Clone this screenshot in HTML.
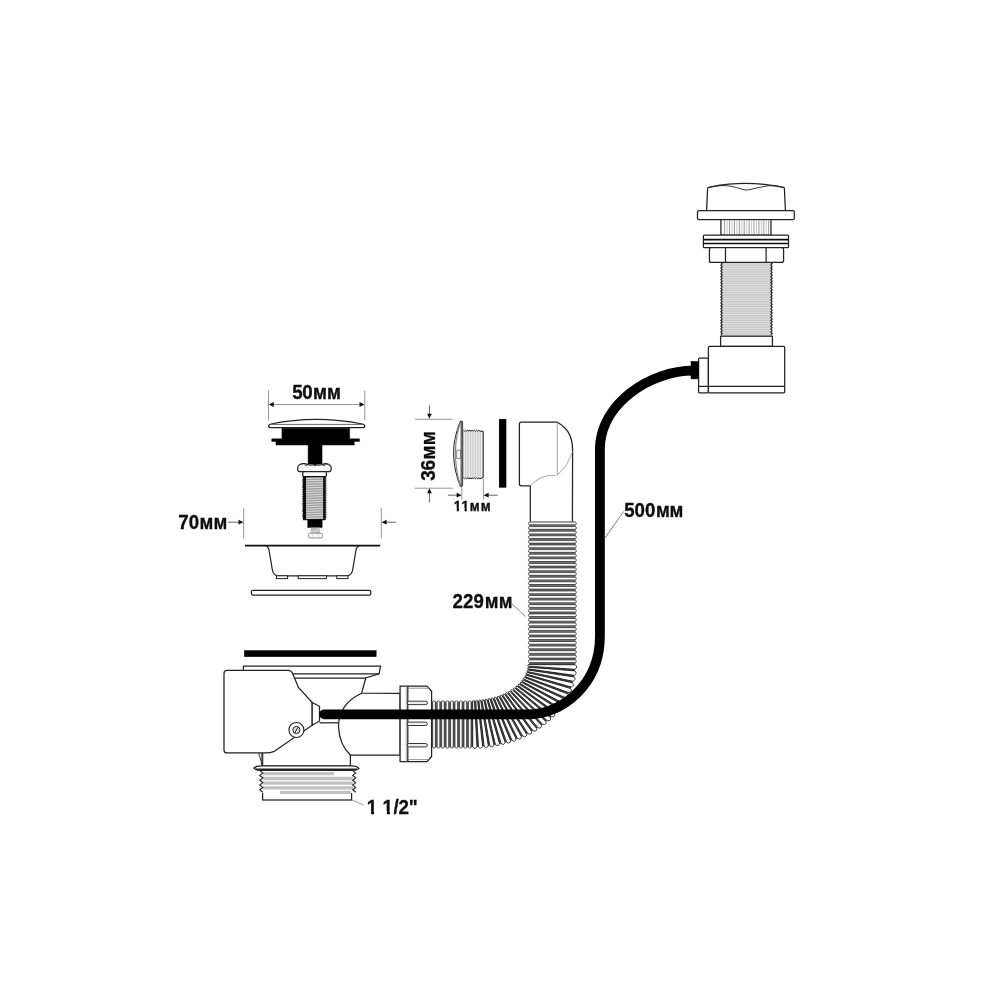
<!DOCTYPE html>
<html lang="ru">
<head>
<meta charset="utf-8">
<title>Схема</title>
<style>
html,body{margin:0;padding:0;background:#fff;}
body{width:1000px;height:1000px;overflow:hidden;}
svg{display:block;}
text{font-family:"Liberation Sans",sans-serif;font-weight:bold;fill:#0a0a0a;stroke:#0a0a0a;stroke-width:0.3px;font-kerning:none;}
</style>
</head>
<body>
<svg width="1000" height="1000" viewBox="0 0 1000 1000">
<defs><filter id="soft" x="0" y="0" width="1000" height="1000" filterUnits="userSpaceOnUse"><feGaussianBlur stdDeviation="0.55"/></filter></defs>
<rect width="1000" height="1000" fill="#fff"/>
<g filter="url(#soft)">
<g id="overflow">
<rect x="721.3" y="262.4" width="50.4" height="73.8" rx="0" fill="#c4c4c4" stroke="none" stroke-width="1.25" />
<line x1="722.3" y1="263.9" x2="770.7" y2="263.9" stroke="#e8e8e8" stroke-width="0.9" />
<line x1="722.3" y1="266.2" x2="770.7" y2="266.2" stroke="#e8e8e8" stroke-width="0.9" />
<line x1="722.3" y1="268.5" x2="770.7" y2="268.5" stroke="#e8e8e8" stroke-width="0.9" />
<line x1="722.3" y1="270.8" x2="770.7" y2="270.8" stroke="#e8e8e8" stroke-width="0.9" />
<line x1="722.3" y1="273.1" x2="770.7" y2="273.1" stroke="#e8e8e8" stroke-width="0.9" />
<line x1="722.3" y1="275.4" x2="770.7" y2="275.4" stroke="#e8e8e8" stroke-width="0.9" />
<line x1="722.3" y1="277.7" x2="770.7" y2="277.7" stroke="#e8e8e8" stroke-width="0.9" />
<line x1="722.3" y1="280.0" x2="770.7" y2="280.0" stroke="#e8e8e8" stroke-width="0.9" />
<line x1="722.3" y1="282.3" x2="770.7" y2="282.3" stroke="#e8e8e8" stroke-width="0.9" />
<line x1="722.3" y1="284.6" x2="770.7" y2="284.6" stroke="#e8e8e8" stroke-width="0.9" />
<line x1="722.3" y1="286.9" x2="770.7" y2="286.9" stroke="#e8e8e8" stroke-width="0.9" />
<line x1="722.3" y1="289.2" x2="770.7" y2="289.2" stroke="#e8e8e8" stroke-width="0.9" />
<line x1="722.3" y1="291.5" x2="770.7" y2="291.5" stroke="#e8e8e8" stroke-width="0.9" />
<line x1="722.3" y1="293.8" x2="770.7" y2="293.8" stroke="#e8e8e8" stroke-width="0.9" />
<line x1="722.3" y1="296.1" x2="770.7" y2="296.1" stroke="#e8e8e8" stroke-width="0.9" />
<line x1="722.3" y1="298.4" x2="770.7" y2="298.4" stroke="#e8e8e8" stroke-width="0.9" />
<line x1="722.3" y1="300.7" x2="770.7" y2="300.7" stroke="#e8e8e8" stroke-width="0.9" />
<line x1="722.3" y1="303.0" x2="770.7" y2="303.0" stroke="#e8e8e8" stroke-width="0.9" />
<line x1="722.3" y1="305.3" x2="770.7" y2="305.3" stroke="#e8e8e8" stroke-width="0.9" />
<line x1="722.3" y1="307.6" x2="770.7" y2="307.6" stroke="#e8e8e8" stroke-width="0.9" />
<line x1="722.3" y1="309.9" x2="770.7" y2="309.9" stroke="#e8e8e8" stroke-width="0.9" />
<line x1="722.3" y1="312.2" x2="770.7" y2="312.2" stroke="#e8e8e8" stroke-width="0.9" />
<line x1="722.3" y1="314.5" x2="770.7" y2="314.5" stroke="#e8e8e8" stroke-width="0.9" />
<line x1="722.3" y1="316.8" x2="770.7" y2="316.8" stroke="#e8e8e8" stroke-width="0.9" />
<line x1="722.3" y1="319.1" x2="770.7" y2="319.1" stroke="#e8e8e8" stroke-width="0.9" />
<line x1="722.3" y1="321.4" x2="770.7" y2="321.4" stroke="#e8e8e8" stroke-width="0.9" />
<line x1="722.3" y1="323.7" x2="770.7" y2="323.7" stroke="#e8e8e8" stroke-width="0.9" />
<line x1="722.3" y1="326.0" x2="770.7" y2="326.0" stroke="#e8e8e8" stroke-width="0.9" />
<line x1="722.3" y1="328.3" x2="770.7" y2="328.3" stroke="#e8e8e8" stroke-width="0.9" />
<line x1="722.3" y1="330.6" x2="770.7" y2="330.6" stroke="#e8e8e8" stroke-width="0.9" />
<line x1="722.3" y1="332.9" x2="770.7" y2="332.9" stroke="#e8e8e8" stroke-width="0.9" />
<line x1="722.3" y1="335.2" x2="770.7" y2="335.2" stroke="#e8e8e8" stroke-width="0.9" />
<polyline points="720.9,262.4 722.1,263.8 720.9,265.3 722.1,266.7 720.9,268.2 722.1,269.6 720.9,271.1 722.1,272.5 720.9,274.0 722.1,275.4 720.9,276.9 722.1,278.3 720.9,279.8 722.1,281.2 720.9,282.7 722.1,284.1 720.9,285.6 722.1,287.0 720.9,288.5 722.1,289.9 720.9,291.4 722.1,292.8 720.9,294.3 722.1,295.7 720.9,297.2 722.1,298.6 720.9,300.1 722.1,301.5 720.9,303.0 722.1,304.4 720.9,305.9 722.1,307.3 720.9,308.8 722.1,310.2 720.9,311.7 722.1,313.1 720.9,314.6 722.1,316.0 720.9,317.5 722.1,318.9 720.9,320.4 722.1,321.8 720.9,323.3 722.1,324.7 720.9,326.2 722.1,327.6 720.9,329.1 722.1,330.5 720.9,332.0 722.1,333.4 720.9,334.9" fill="none" stroke="#222222" stroke-width="1.2"/>
<polyline points="770.9,262.4 772.1,263.8 770.9,265.3 772.1,266.7 770.9,268.2 772.1,269.6 770.9,271.1 772.1,272.5 770.9,274.0 772.1,275.4 770.9,276.9 772.1,278.3 770.9,279.8 772.1,281.2 770.9,282.7 772.1,284.1 770.9,285.6 772.1,287.0 770.9,288.5 772.1,289.9 770.9,291.4 772.1,292.8 770.9,294.3 772.1,295.7 770.9,297.2 772.1,298.6 770.9,300.1 772.1,301.5 770.9,303.0 772.1,304.4 770.9,305.9 772.1,307.3 770.9,308.8 772.1,310.2 770.9,311.7 772.1,313.1 770.9,314.6 772.1,316.0 770.9,317.5 772.1,318.9 770.9,320.4 772.1,321.8 770.9,323.3 772.1,324.7 770.9,326.2 772.1,327.6 770.9,329.1 772.1,330.5 770.9,332.0 772.1,333.4 770.9,334.9" fill="none" stroke="#222222" stroke-width="1.2"/>
<path d="M706.6 210.6 L707.6 188.4 Q707.7 187.5 708.7 187.3 Q745 179.4 783.3 187.3 Q784.3 187.5 784.4 188.4 L785.4 210.6 Z" fill="#fff" stroke="#222222" stroke-width="1.25" />
<path d="M708.7 187.4 Q722 184.6 731 186.2 Q739 188 742 189.3 Q746 190.8 750 189.6 Q758 187.4 768 185.8 Q776 185 783.3 187.3" fill="none" stroke="#222222" stroke-width="0.9" />
<rect x="697.5" y="210.6" width="96.8" height="9.0" rx="1.2" fill="#fff" stroke="#222222" stroke-width="1.25" />
<rect x="720.9" y="219.6" width="50.1" height="15.6" rx="0" fill="#fff" stroke="#222222" stroke-width="1.25" />
<line x1="724.6" y1="220.4" x2="724.6" y2="234.6" stroke="#8c8c8c" stroke-width="0.9" />
<line x1="727.1" y1="220.4" x2="727.1" y2="234.6" stroke="#c4c4c4" stroke-width="0.9" />
<line x1="729.5" y1="220.4" x2="729.5" y2="234.6" stroke="#8c8c8c" stroke-width="0.9" />
<line x1="732.0" y1="220.4" x2="732.0" y2="234.6" stroke="#c4c4c4" stroke-width="0.9" />
<line x1="734.4" y1="220.4" x2="734.4" y2="234.6" stroke="#8c8c8c" stroke-width="0.9" />
<line x1="736.9" y1="220.4" x2="736.9" y2="234.6" stroke="#c4c4c4" stroke-width="0.9" />
<line x1="739.3" y1="220.4" x2="739.3" y2="234.6" stroke="#8c8c8c" stroke-width="0.9" />
<line x1="741.8" y1="220.4" x2="741.8" y2="234.6" stroke="#c4c4c4" stroke-width="0.9" />
<line x1="744.2" y1="220.4" x2="744.2" y2="234.6" stroke="#8c8c8c" stroke-width="0.9" />
<line x1="746.7" y1="220.4" x2="746.7" y2="234.6" stroke="#c4c4c4" stroke-width="0.9" />
<line x1="749.1" y1="220.4" x2="749.1" y2="234.6" stroke="#8c8c8c" stroke-width="0.9" />
<line x1="751.6" y1="220.4" x2="751.6" y2="234.6" stroke="#c4c4c4" stroke-width="0.9" />
<line x1="754.0" y1="220.4" x2="754.0" y2="234.6" stroke="#8c8c8c" stroke-width="0.9" />
<line x1="756.5" y1="220.4" x2="756.5" y2="234.6" stroke="#c4c4c4" stroke-width="0.9" />
<line x1="758.9" y1="220.4" x2="758.9" y2="234.6" stroke="#8c8c8c" stroke-width="0.9" />
<line x1="761.4" y1="220.4" x2="761.4" y2="234.6" stroke="#c4c4c4" stroke-width="0.9" />
<line x1="763.8" y1="220.4" x2="763.8" y2="234.6" stroke="#8c8c8c" stroke-width="0.9" />
<line x1="766.3" y1="220.4" x2="766.3" y2="234.6" stroke="#c4c4c4" stroke-width="0.9" />
<line x1="768.7" y1="220.4" x2="768.7" y2="234.6" stroke="#8c8c8c" stroke-width="0.9" />
<rect x="703.4" y="235.0" width="85.1" height="12.7" rx="1" fill="#fff" stroke="#222222" stroke-width="1.25" />
<line x1="703.4" y1="239.6" x2="788.5" y2="239.6" stroke="#0a0a0a" stroke-width="1.6" />
<line x1="703.4" y1="243.5" x2="788.5" y2="243.5" stroke="#0a0a0a" stroke-width="1.6" />
<rect x="709.4" y="247.7" width="74.2" height="14.7" rx="2" fill="#fff" stroke="#222222" stroke-width="1.25" />
<line x1="725.5" y1="247.7" x2="725.5" y2="262.4" stroke="#222222" stroke-width="1.25" />
<line x1="766.1" y1="247.7" x2="766.1" y2="262.4" stroke="#222222" stroke-width="1.25" />
<rect x="720.6" y="336.2" width="51.8" height="10.2" rx="0" fill="#fff" stroke="#222222" stroke-width="1.25" />
<rect x="698.6" y="358.2" width="9.8" height="34.7" rx="1" fill="#fff" stroke="#222222" stroke-width="1.25" />
<rect x="708.4" y="346.4" width="76.3" height="46.5" rx="1.2" fill="#fff" stroke="#222222" stroke-width="1.25" />
<line x1="698.6" y1="386.3" x2="784.7" y2="386.3" stroke="#222222" stroke-width="1.2" />
<rect x="691.0" y="361.4" width="7.6" height="17.5" rx="0" fill="#000" stroke="#000" stroke-width="0.5" />
</g>
<g id="hose">
<path d="M530.3 521.5 L530.3 485.8 L521.4 485.8 Q519.4 485.8 519.4 483.8 L519.4 424.2 Q519.4 422.2 521.4 422.2 L557.2 422.2 Q572.6 430 572.6 450 L572.4 521.5" fill="#fff" stroke="#222222" stroke-width="1.25" />
<path d="M557.2 422.2 L557.2 475 M530.3 485.8 Q541 474 555.5 475.6 M557.2 475 Q568 466 572.5 451.6" fill="none" stroke="#8c8c8c" stroke-width="0.8" />
<rect x="529.2" y="521.6" width="46.4" height="142.4" rx="0" fill="#7a7a7a" stroke="none" stroke-width="1.25" />
<rect x="528.4" y="522.1" width="48.0" height="2.7" rx="1.35" fill="#fff" stroke="#111" stroke-width="0.65" />
<rect x="528.4" y="526.6" width="48.0" height="2.7" rx="1.35" fill="#fff" stroke="#111" stroke-width="0.65" />
<rect x="528.4" y="531.2" width="48.0" height="2.7" rx="1.35" fill="#fff" stroke="#111" stroke-width="0.65" />
<rect x="528.4" y="535.8" width="48.0" height="2.7" rx="1.35" fill="#fff" stroke="#111" stroke-width="0.65" />
<rect x="528.4" y="540.4" width="48.0" height="2.7" rx="1.35" fill="#fff" stroke="#111" stroke-width="0.65" />
<rect x="528.4" y="545.0" width="48.0" height="2.7" rx="1.35" fill="#fff" stroke="#111" stroke-width="0.65" />
<rect x="528.4" y="549.6" width="48.0" height="2.7" rx="1.35" fill="#fff" stroke="#111" stroke-width="0.65" />
<rect x="528.4" y="554.2" width="48.0" height="2.7" rx="1.35" fill="#fff" stroke="#111" stroke-width="0.65" />
<rect x="528.4" y="558.8" width="48.0" height="2.7" rx="1.35" fill="#fff" stroke="#111" stroke-width="0.65" />
<rect x="528.4" y="563.4" width="48.0" height="2.7" rx="1.35" fill="#fff" stroke="#111" stroke-width="0.65" />
<rect x="528.4" y="568.0" width="48.0" height="2.7" rx="1.35" fill="#fff" stroke="#111" stroke-width="0.65" />
<rect x="528.4" y="572.6" width="48.0" height="2.7" rx="1.35" fill="#fff" stroke="#111" stroke-width="0.65" />
<rect x="528.4" y="577.2" width="48.0" height="2.7" rx="1.35" fill="#fff" stroke="#111" stroke-width="0.65" />
<rect x="528.4" y="581.8" width="48.0" height="2.7" rx="1.35" fill="#fff" stroke="#111" stroke-width="0.65" />
<rect x="528.4" y="586.4" width="48.0" height="2.7" rx="1.35" fill="#fff" stroke="#111" stroke-width="0.65" />
<rect x="528.4" y="591.0" width="48.0" height="2.7" rx="1.35" fill="#fff" stroke="#111" stroke-width="0.65" />
<rect x="528.4" y="595.5" width="48.0" height="2.7" rx="1.35" fill="#fff" stroke="#111" stroke-width="0.65" />
<rect x="528.4" y="600.1" width="48.0" height="2.7" rx="1.35" fill="#fff" stroke="#111" stroke-width="0.65" />
<rect x="528.4" y="604.7" width="48.0" height="2.7" rx="1.35" fill="#fff" stroke="#111" stroke-width="0.65" />
<rect x="528.4" y="609.3" width="48.0" height="2.7" rx="1.35" fill="#fff" stroke="#111" stroke-width="0.65" />
<rect x="528.4" y="613.9" width="48.0" height="2.7" rx="1.35" fill="#fff" stroke="#111" stroke-width="0.65" />
<rect x="528.4" y="618.5" width="48.0" height="2.7" rx="1.35" fill="#fff" stroke="#111" stroke-width="0.65" />
<rect x="528.4" y="623.1" width="48.0" height="2.7" rx="1.35" fill="#fff" stroke="#111" stroke-width="0.65" />
<rect x="528.4" y="627.7" width="48.0" height="2.7" rx="1.35" fill="#fff" stroke="#111" stroke-width="0.65" />
<rect x="528.4" y="632.3" width="48.0" height="2.7" rx="1.35" fill="#fff" stroke="#111" stroke-width="0.65" />
<rect x="528.4" y="636.9" width="48.0" height="2.7" rx="1.35" fill="#fff" stroke="#111" stroke-width="0.65" />
<rect x="528.4" y="641.5" width="48.0" height="2.7" rx="1.35" fill="#fff" stroke="#111" stroke-width="0.65" />
<rect x="528.4" y="646.1" width="48.0" height="2.7" rx="1.35" fill="#fff" stroke="#111" stroke-width="0.65" />
<rect x="528.4" y="650.7" width="48.0" height="2.7" rx="1.35" fill="#fff" stroke="#111" stroke-width="0.65" />
<rect x="528.4" y="655.3" width="48.0" height="2.7" rx="1.35" fill="#fff" stroke="#111" stroke-width="0.65" />
<rect x="528.4" y="659.9" width="48.0" height="2.7" rx="1.35" fill="#fff" stroke="#111" stroke-width="0.65" />
<polygon points="574.7,664.0 574.7,665.3 574.7,666.6 574.6,667.9 574.5,669.2 574.4,670.5 574.3,671.8 574.1,673.0 573.9,674.3 573.7,675.6 573.5,676.9 573.2,678.2 572.9,679.4 572.6,680.7 572.2,682.0 571.9,683.2 571.5,684.5 571.1,685.8 570.6,687.0 570.2,688.2 569.7,689.5 569.2,690.7 568.6,691.9 568.1,693.1 567.5,694.3 566.9,695.6 566.3,696.7 565.6,697.9 564.9,699.1 564.2,700.3 563.5,701.4 562.8,702.6 562.0,703.7 561.2,704.8 560.4,706.0 559.6,707.1 558.7,708.2 557.9,709.3 557.0,710.3 556.0,711.4 555.1,712.5 554.1,713.5 553.2,714.5 552.2,715.5 551.1,716.6 550.1,717.5 549.1,718.5 548.0,719.5 546.9,720.4 545.8,721.4 544.6,722.3 543.5,723.2 542.3,724.1 541.1,725.0 539.9,725.8 538.7,726.7 537.5,727.5 536.2,728.3 535.0,729.1 533.7,729.9 532.4,730.7 531.1,731.5 529.7,732.2 528.4,732.9 527.0,733.6 525.7,734.3 524.3,735.0 522.9,735.6 521.5,736.2 520.1,736.9 518.6,737.5 517.2,738.0 515.7,738.6 514.3,739.1 512.8,739.7 511.3,740.2 509.8,740.7 508.3,741.1 506.8,741.6 505.3,742.0 503.7,742.4 502.2,742.8 500.7,743.2 499.1,743.5 497.5,743.9 496.0,744.2 494.4,744.5 492.8,744.7 491.2,745.0 489.7,745.2 488.1,745.4 486.5,745.6 484.9,745.8 483.3,745.9 481.7,746.1 480.1,746.2 478.4,746.3 476.8,746.4 475.2,746.4 473.6,746.4 472.0,746.4 472.0,701.7 472.9,701.7 473.8,701.7 474.7,701.7 475.6,701.7 476.5,701.6 477.4,701.6 478.3,701.5 479.2,701.4 480.1,701.4 481.0,701.3 481.9,701.2 482.7,701.1 483.6,701.0 484.5,700.8 485.4,700.7 486.3,700.6 487.1,700.4 488.0,700.2 488.9,700.1 489.7,699.9 490.6,699.7 491.4,699.5 492.3,699.3 493.1,699.1 494.0,698.9 494.8,698.6 495.6,698.4 496.4,698.2 497.2,697.9 498.0,697.6 498.8,697.4 499.6,697.1 500.4,696.8 501.2,696.5 502.0,696.2 502.7,695.9 503.5,695.5 504.2,695.2 505.0,694.9 505.7,694.5 506.4,694.2 507.2,693.8 507.9,693.5 508.6,693.1 509.3,692.7 509.9,692.3 510.6,691.9 511.3,691.5 511.9,691.1 512.6,690.7 513.2,690.3 513.8,689.8 514.4,689.4 515.0,689.0 515.6,688.5 516.2,688.1 516.8,687.6 517.3,687.1 517.9,686.7 518.4,686.2 518.9,685.7 519.4,685.2 519.9,684.7 520.4,684.2 520.9,683.7 521.4,683.2 521.8,682.7 522.3,682.2 522.7,681.7 523.1,681.1 523.5,680.6 523.9,680.1 524.3,679.5 524.6,679.0 525.0,678.4 525.3,677.9 525.7,677.3 526.0,676.8 526.3,676.2 526.6,675.7 526.8,675.1 527.1,674.5 527.3,674.0 527.6,673.4 527.8,672.8 528.0,672.2 528.2,671.7 528.3,671.1 528.5,670.5 528.7,669.9 528.8,669.3 528.9,668.7 529.0,668.1 529.1,667.6 529.2,667.0 529.2,666.4 529.3,665.8 529.3,665.2 529.4,664.6 529.4,664.0" fill="#505050" stroke="#222" stroke-width="0.7"/>
<path d="M528.39 664.57 L575.20 664.79 Q578.25 667.16 574.99 669.30 L528.30 666.14 Q527.40 665.32 528.39 664.57 Z" fill="#fff" stroke="#0a0a0a" stroke-width="0.8" stroke-linejoin="round"/>
<path d="M528.18 667.27 L574.84 670.88 Q577.68 673.46 574.23 675.34 L527.91 668.82 Q527.10 667.94 528.18 667.27 Z" fill="#fff" stroke="#0a0a0a" stroke-width="0.8" stroke-linejoin="round"/>
<path d="M527.66 669.94 L573.94 676.90 Q576.54 679.66 572.93 681.28 L527.23 671.46 Q526.51 670.53 527.66 669.94 Z" fill="#fff" stroke="#0a0a0a" stroke-width="0.8" stroke-linejoin="round"/>
<path d="M526.86 672.55 L572.51 682.80 Q574.87 685.72 571.13 687.07 L526.26 674.03 Q525.64 673.06 526.86 672.55 Z" fill="#fff" stroke="#0a0a0a" stroke-width="0.8" stroke-linejoin="round"/>
<path d="M525.78 675.09 L570.58 688.54 Q572.70 691.60 568.84 692.65 L525.03 676.52 Q524.51 675.51 525.78 675.09 Z" fill="#fff" stroke="#0a0a0a" stroke-width="0.8" stroke-linejoin="round"/>
<path d="M524.44 677.54 L568.17 694.07 Q570.05 697.25 566.12 698.01 L523.56 678.91 Q523.13 677.86 524.44 677.54 Z" fill="#fff" stroke="#0a0a0a" stroke-width="0.8" stroke-linejoin="round"/>
<path d="M522.88 679.88 L565.34 699.37 Q566.98 702.64 562.99 703.12 L521.87 681.18 Q521.53 680.11 522.88 679.88 Z" fill="#fff" stroke="#0a0a0a" stroke-width="0.8" stroke-linejoin="round"/>
<path d="M521.10 682.10 L562.12 704.40 Q563.53 707.76 559.51 707.95 L519.99 683.34 Q519.73 682.24 521.10 682.10 Z" fill="#fff" stroke="#0a0a0a" stroke-width="0.8" stroke-linejoin="round"/>
<path d="M519.14 684.21 L558.55 709.16 Q559.73 712.58 555.71 712.50 L517.92 685.37 Q517.74 684.26 519.14 684.21 Z" fill="#fff" stroke="#0a0a0a" stroke-width="0.8" stroke-linejoin="round"/>
<path d="M517.00 686.18 L554.67 713.63 Q555.62 717.11 551.62 716.75 L515.70 687.27 Q515.60 686.14 517.00 686.18 Z" fill="#fff" stroke="#0a0a0a" stroke-width="0.8" stroke-linejoin="round"/>
<path d="M514.72 688.02 L550.52 717.81 Q551.24 721.33 547.28 720.72 L513.34 689.04 Q513.32 687.90 514.72 688.02 Z" fill="#fff" stroke="#0a0a0a" stroke-width="0.8" stroke-linejoin="round"/>
<path d="M512.31 689.74 L546.12 721.70 Q546.62 725.25 542.72 724.38 L510.85 690.67 Q510.91 689.54 512.31 689.74 Z" fill="#fff" stroke="#0a0a0a" stroke-width="0.8" stroke-linejoin="round"/>
<path d="M509.78 691.32 L541.51 725.29 Q541.80 728.87 537.97 727.76 L508.27 692.18 Q508.40 691.05 509.78 691.32 Z" fill="#fff" stroke="#0a0a0a" stroke-width="0.8" stroke-linejoin="round"/>
<path d="M507.15 692.78 L536.71 728.59 Q536.79 732.18 533.05 730.85 L505.58 693.56 Q505.78 692.43 507.15 692.78 Z" fill="#fff" stroke="#0a0a0a" stroke-width="0.8" stroke-linejoin="round"/>
<path d="M504.43 694.11 L531.75 731.61 Q531.62 735.20 527.98 733.66 L502.82 694.82 Q503.09 693.69 504.43 694.11 Z" fill="#fff" stroke="#0a0a0a" stroke-width="0.8" stroke-linejoin="round"/>
<path d="M501.64 695.31 L526.64 734.34 Q526.32 737.92 522.79 736.18 L499.98 695.95 Q500.32 694.82 501.64 695.31 Z" fill="#fff" stroke="#0a0a0a" stroke-width="0.8" stroke-linejoin="round"/>
<path d="M498.78 696.39 L521.42 736.79 Q520.89 740.36 517.48 738.43 L497.09 696.96 Q497.49 695.84 498.78 696.39 Z" fill="#fff" stroke="#0a0a0a" stroke-width="0.8" stroke-linejoin="round"/>
<path d="M495.86 697.35 L516.09 738.97 Q515.36 742.52 512.08 740.41 L494.14 697.85 Q494.61 696.74 495.86 697.35 Z" fill="#fff" stroke="#0a0a0a" stroke-width="0.8" stroke-linejoin="round"/>
<path d="M492.89 698.18 L510.66 740.88 Q509.75 744.39 506.60 742.12 L491.15 698.61 Q491.68 697.52 492.89 698.18 Z" fill="#fff" stroke="#0a0a0a" stroke-width="0.8" stroke-linejoin="round"/>
<path d="M489.88 698.90 L505.17 742.52 Q504.06 745.99 501.06 743.56 L488.12 699.26 Q488.72 698.19 489.88 698.90 Z" fill="#fff" stroke="#0a0a0a" stroke-width="0.8" stroke-linejoin="round"/>
<path d="M486.84 699.50 L499.61 743.90 Q498.31 747.32 495.46 744.75 L485.07 699.80 Q485.72 698.74 486.84 699.50 Z" fill="#fff" stroke="#0a0a0a" stroke-width="0.8" stroke-linejoin="round"/>
<path d="M483.77 699.99 L493.99 745.01 Q492.51 748.38 489.82 745.67 L481.98 700.22 Q482.69 699.18 483.77 699.99 Z" fill="#fff" stroke="#0a0a0a" stroke-width="0.8" stroke-linejoin="round"/>
<path d="M480.68 700.36 L488.34 745.87 Q486.68 749.17 484.14 746.34 L478.88 700.52 Q479.65 699.51 480.68 700.36 Z" fill="#fff" stroke="#0a0a0a" stroke-width="0.8" stroke-linejoin="round"/>
<path d="M477.58 700.62 L482.66 746.47 Q480.82 749.70 478.45 746.76 L475.77 700.72 Q476.60 699.73 477.58 700.62 Z" fill="#fff" stroke="#0a0a0a" stroke-width="0.8" stroke-linejoin="round"/>
<path d="M474.46 700.76 L476.97 746.82 Q474.94 749.96 472.74 746.92 L472.66 700.80 Q473.53 699.84 474.46 700.76 Z" fill="#fff" stroke="#0a0a0a" stroke-width="0.8" stroke-linejoin="round"/>
<rect x="431.8" y="701.6" width="40.2" height="45.7" rx="0" fill="#606060" stroke="none" stroke-width="1.25" />
<rect x="432.7" y="700.8" width="2.6" height="47.3" rx="1.3" fill="#fff" stroke="#111" stroke-width="0.65" />
<rect x="437.2" y="700.8" width="2.6" height="47.3" rx="1.3" fill="#fff" stroke="#111" stroke-width="0.65" />
<rect x="441.6" y="700.8" width="2.6" height="47.3" rx="1.3" fill="#fff" stroke="#111" stroke-width="0.65" />
<rect x="446.1" y="700.8" width="2.6" height="47.3" rx="1.3" fill="#fff" stroke="#111" stroke-width="0.65" />
<rect x="450.6" y="700.8" width="2.6" height="47.3" rx="1.3" fill="#fff" stroke="#111" stroke-width="0.65" />
<rect x="455.0" y="700.8" width="2.6" height="47.3" rx="1.3" fill="#fff" stroke="#111" stroke-width="0.65" />
<rect x="459.5" y="700.8" width="2.6" height="47.3" rx="1.3" fill="#fff" stroke="#111" stroke-width="0.65" />
<rect x="464.0" y="700.8" width="2.6" height="47.3" rx="1.3" fill="#fff" stroke="#111" stroke-width="0.65" />
<rect x="468.4" y="700.8" width="2.6" height="47.3" rx="1.3" fill="#fff" stroke="#111" stroke-width="0.65" />
</g>
<g id="trap">
<rect x="244.3" y="650.4" width="132.0" height="6.4" rx="0" fill="#000" stroke="#000" stroke-width="0.3" />
<rect x="262.6" y="792.0" width="89.0" height="8.0" rx="0" fill="#fff" stroke="#222222" stroke-width="1.25" />
<rect x="261.4" y="770.4" width="92.6" height="22.6" rx="0" fill="#fff" stroke="none" stroke-width="1.25" />
<line x1="263.0" y1="773.7" x2="334.0" y2="773.7" stroke="#c2c2c2" stroke-width="3.3" />
<line x1="263.0" y1="778.5" x2="353.0" y2="778.5" stroke="#c2c2c2" stroke-width="3.3" />
<line x1="263.0" y1="783.2" x2="353.0" y2="783.2" stroke="#c2c2c2" stroke-width="3.3" />
<line x1="263.0" y1="787.8" x2="353.0" y2="787.8" stroke="#c2c2c2" stroke-width="3.3" />
<line x1="280.0" y1="792.3" x2="351.0" y2="792.3" stroke="#c2c2c2" stroke-width="3.3" />
<polyline points="259.8,770.6 262.8,773.0 259.8,775.4 262.8,777.8 259.8,780.2 262.8,782.6 259.8,785.0 262.8,787.4 259.8,789.8 262.8,792.2" fill="none" stroke="#222222" stroke-width="1.1"/>
<polyline points="352.7,770.6 355.7,773.0 352.7,775.4 355.7,777.8 352.7,780.2 355.7,782.6 352.7,785.0 355.7,787.4 352.7,789.8 355.7,792.2" fill="none" stroke="#222222" stroke-width="1.1"/>
<path d="M243.4 666.1 L380.5 666.1 L379.1 673.8 L365.8 678 L361.6 693.2 L400.1 693.4 L400.1 755 L350.4 755 L350.4 766.2 L262 766.2 L262 750 L243.4 720 Z" fill="#fff" stroke="#222222" stroke-width="1.25" />
<line x1="243.4" y1="673.8" x2="379.1" y2="673.8" stroke="#222222" stroke-width="1.25" />
<line x1="290.0" y1="678.0" x2="365.8" y2="678.0" stroke="#222222" stroke-width="1.25" />
<path d="M361.6 693.2 Q338.5 704 338.5 727 Q339.5 745 350.4 755" fill="none" stroke="#222222" stroke-width="1.25" />
<line x1="319.5" y1="722.8" x2="338.8" y2="722.8" stroke="#222222" stroke-width="1.25" />
<path d="M258.5 752.5 L262.5 766 M262.8 752.5 L262.8 766" fill="none" stroke="#222222" stroke-width="0.9" />
<path d="M254 768 Q256 765.8 262 765.8 L351 765.8 Q357 765.8 359 768.4 Q357 770.6 351 770.4 L262 770.4 Q256 770.4 254 768 Z" fill="#fff" stroke="#222222" stroke-width="1.2" />
<line x1="256.0" y1="769.2" x2="357.0" y2="769.2" stroke="#222" stroke-width="1.4" />
<path d="M227 670.3 L288 670.3 Q291 670.3 292.5 673 L298.4 687.4 L312.2 702.5 L312.2 725.2 L274.4 751.3 Q270 752.9 266 752.9 L227 752.9 Q224 752.9 224 749.9 L224 673.3 Q224 670.3 227 670.3 Z" fill="#fff" stroke="#222222" stroke-width="1.25" />
<path d="M312.2 702.5 L319.5 706.3 L319.5 721 L312.2 725.2 Z" fill="#fff" stroke="#222222" stroke-width="1.25" />
<circle cx="296.4" cy="730" r="7.5" fill="#fff" stroke="#222222" stroke-width="1.1"/>
<circle cx="296.4" cy="730" r="3.6" fill="#ddd" stroke="#222222" stroke-width="1"/>
<line x1="294.6" y1="733.0" x2="298.2" y2="727.0" stroke="#222222" stroke-width="1" />
<path d="M400.1 686.1 L427 686.1 L431.6 691.3 L431.6 756.5 L427 761.7 L400.1 761.7 Z" fill="#fff" stroke="#222222" stroke-width="1.25" />
<line x1="407.8" y1="686.1" x2="407.8" y2="761.7" stroke="#222222" stroke-width="1.25" />
<line x1="406.3" y1="686.1" x2="406.3" y2="761.7" stroke="#999" stroke-width="0.8" />
<line x1="407.8" y1="688.2" x2="429.0" y2="688.2" stroke="#777" stroke-width="0.8" />
<line x1="407.8" y1="759.6" x2="429.0" y2="759.6" stroke="#777" stroke-width="0.8" />
<rect x="407.2" y="701.2" width="20.2" height="3.4" rx="1.7" fill="#eee" stroke="#222222" stroke-width="0.9" />
<rect x="407.2" y="722.1" width="20.2" height="3.4" rx="1.7" fill="#eee" stroke="#222222" stroke-width="0.9" />
<rect x="407.2" y="743.5" width="20.2" height="3.4" rx="1.7" fill="#eee" stroke="#222222" stroke-width="0.9" />
</g>
<path d="M694 370.6 C 650 370.4, 601.6 403, 599.9 447.5 L599.9 636 C 599.9 687.2, 558.8 714.3, 530 714.3 L324.2 714.3" fill="none" stroke="#000" stroke-width="9.8" stroke-linecap="round" stroke-linejoin="round"/>
<g id="plug">
<line x1="268.5" y1="390.5" x2="268.5" y2="420.6" stroke="#6c6c6c" stroke-width="0.72" />
<line x1="364.8" y1="390.5" x2="364.8" y2="420.6" stroke="#6c6c6c" stroke-width="0.72" />
<line x1="270.0" y1="404.5" x2="363.0" y2="404.5" stroke="#6c6c6c" stroke-width="0.72" />
<polygon points="268.8,404.5 273.8,402.1 273.8,406.9" fill="#111"/>
<polygon points="364.5,404.5 359.5,406.9 359.5,402.1" fill="#111"/>
<path d="M268.6 426 Q268.6 424.4 271 424 Q316 414.8 362.4 424 Q364.8 424.4 364.8 426 Q364.8 427.6 362.4 427.6 L271 427.6 Q268.6 427.6 268.6 426 Z" fill="#fff" stroke="#222222" stroke-width="1.25" />
<path d="M271 424.4 L362.4 424.4" fill="none" stroke="#555" stroke-width="0.9" />
<path d="M281.9 428.2 L349.7 428.2 L349.7 438.8 L359.6 438.8 L359.6 441.6 L354.3 441.6 L354.3 445.1 L322.1 445.1 L322.1 464 L308.1 464 L308.1 445.1 L275.9 445.1 L275.9 441.6 L271.7 441.6 L271.7 438.8 L281.9 438.8 Z" fill="#000" stroke="#000" stroke-width="0.4" />
<path d="M308.1 464.6 Q303 462.8 299.6 464.8 Q297.4 466 297.6 468.4 Q297.6 471.7 300.4 471.7 L328.4 471.7 Q331.2 471.7 331.2 468.4 Q331.4 466 329.2 464.8 Q326 462.8 322.1 464.6 Q318.5 465.6 315.1 464.4 Q311.6 465.6 308.1 464.6 Z" fill="#fff" stroke="#222222" stroke-width="1.25" />
<path d="M305 464.6 l1 1.5 l1 -1.3 M314 464.6 l1.1 1.7 l1.1 -1.7 M323.2 464.8 l1 1.3 l1 -1.5" fill="none" stroke="#222222" stroke-width="0.8" />
<rect x="302.8" y="471.7" width="23.6" height="4.9" rx="1" fill="#fff" stroke="#222222" stroke-width="1.25" />
<rect x="303.6" y="476.6" width="21.6" height="43.0" rx="0" fill="#9c9c9c" stroke="none" stroke-width="1.25" />
<line x1="306.0" y1="478.6" x2="323.2" y2="477.8" stroke="#e8e8e8" stroke-width="0.85" />
<line x1="306.0" y1="480.9" x2="323.2" y2="480.2" stroke="#e8e8e8" stroke-width="0.85" />
<line x1="306.0" y1="483.3" x2="323.2" y2="482.5" stroke="#e8e8e8" stroke-width="0.85" />
<line x1="306.0" y1="485.7" x2="323.2" y2="484.9" stroke="#e8e8e8" stroke-width="0.85" />
<line x1="306.0" y1="488.0" x2="323.2" y2="487.2" stroke="#e8e8e8" stroke-width="0.85" />
<line x1="306.0" y1="490.4" x2="323.2" y2="489.6" stroke="#e8e8e8" stroke-width="0.85" />
<line x1="306.0" y1="492.7" x2="323.2" y2="491.9" stroke="#e8e8e8" stroke-width="0.85" />
<line x1="306.0" y1="495.1" x2="323.2" y2="494.3" stroke="#e8e8e8" stroke-width="0.85" />
<line x1="306.0" y1="497.4" x2="323.2" y2="496.6" stroke="#e8e8e8" stroke-width="0.85" />
<line x1="306.0" y1="499.8" x2="323.2" y2="499.0" stroke="#e8e8e8" stroke-width="0.85" />
<line x1="306.0" y1="502.1" x2="323.2" y2="501.3" stroke="#e8e8e8" stroke-width="0.85" />
<line x1="306.0" y1="504.5" x2="323.2" y2="503.7" stroke="#e8e8e8" stroke-width="0.85" />
<line x1="306.0" y1="506.8" x2="323.2" y2="506.0" stroke="#e8e8e8" stroke-width="0.85" />
<line x1="306.0" y1="509.2" x2="323.2" y2="508.4" stroke="#e8e8e8" stroke-width="0.85" />
<line x1="306.0" y1="511.5" x2="323.2" y2="510.7" stroke="#e8e8e8" stroke-width="0.85" />
<line x1="306.0" y1="513.9" x2="323.2" y2="513.1" stroke="#e8e8e8" stroke-width="0.85" />
<line x1="306.0" y1="516.2" x2="323.2" y2="515.4" stroke="#e8e8e8" stroke-width="0.85" />
<line x1="306.0" y1="518.6" x2="323.2" y2="517.8" stroke="#e8e8e8" stroke-width="0.85" />
<rect x="303.0" y="476.4" width="3.0" height="43.4" rx="0" fill="#0c0c0c" stroke="none" stroke-width="1.25" />
<rect x="323.2" y="476.4" width="2.4" height="43.4" rx="0" fill="#0c0c0c" stroke="none" stroke-width="1.25" />
<line x1="303.0" y1="476.6" x2="325.6" y2="476.6" stroke="#0c0c0c" stroke-width="1.2" />
<line x1="303.0" y1="519.6" x2="325.6" y2="519.6" stroke="#0c0c0c" stroke-width="1.2" />
<polyline points="302.4,477.5 303.3,478.7 302.4,479.9 303.3,481.1 302.4,482.3 303.3,483.5 302.4,484.7 303.3,485.9 302.4,487.1 303.3,488.3 302.4,489.5 303.3,490.7 302.4,491.9 303.3,493.1 302.4,494.3 303.3,495.5 302.4,496.7 303.3,497.9 302.4,499.1 303.3,500.3 302.4,501.5 303.3,502.7 302.4,503.9 303.3,505.1 302.4,506.3 303.3,507.5 302.4,508.7 303.3,509.9 302.4,511.1 303.3,512.3 302.4,513.5 303.3,514.7 302.4,515.9 303.3,517.1 302.4,518.3" fill="none" stroke="#222" stroke-width="0.8"/>
<polyline points="325.4,477.5 326.2,478.7 325.4,479.9 326.2,481.1 325.4,482.3 326.2,483.5 325.4,484.7 326.2,485.9 325.4,487.1 326.2,488.3 325.4,489.5 326.2,490.7 325.4,491.9 326.2,493.1 325.4,494.3 326.2,495.5 325.4,496.7 326.2,497.9 325.4,499.1 326.2,500.3 325.4,501.5 326.2,502.7 325.4,503.9 326.2,505.1 325.4,506.3 326.2,507.5 325.4,508.7 326.2,509.9 325.4,511.1 326.2,512.3 325.4,513.5 326.2,514.7 325.4,515.9 326.2,517.1 325.4,518.3" fill="none" stroke="#222" stroke-width="0.8"/>
<rect x="307.6" y="520.0" width="14.6" height="7.6" rx="0" fill="#000" stroke="#000" stroke-width="0.3" />
<rect x="310.8" y="527.6" width="9.0" height="5.8" rx="0" fill="#b4b4b4" stroke="none" stroke-width="1.25" />
<path d="M311 531.5 L319.6 528.6 M311 533.4 L319.6 530.4" fill="none" stroke="#e6e6e6" stroke-width="0.8" />
<rect x="308.6" y="533.2" width="13.8" height="4.7" rx="1.2" fill="#fff" stroke="#8a8a8a" stroke-width="1" />
<line x1="313.0" y1="533.4" x2="313.0" y2="537.8" stroke="#bbb" stroke-width="0.7" />
<line x1="318.2" y1="533.4" x2="318.2" y2="537.8" stroke="#bbb" stroke-width="0.7" />
</g>
<g id="strainer">
<line x1="243.7" y1="508.2" x2="243.7" y2="538.4" stroke="#6c6c6c" stroke-width="0.72" />
<line x1="381.3" y1="508.2" x2="381.3" y2="538.4" stroke="#6c6c6c" stroke-width="0.72" />
<line x1="228.0" y1="522.2" x2="240.0" y2="522.2" stroke="#555" stroke-width="0.9" />
<polygon points="243.5,522.2 238.5,524.6 238.5,519.8" fill="#111"/>
<line x1="385.0" y1="522.2" x2="396.0" y2="522.2" stroke="#555" stroke-width="0.9" />
<polygon points="381.6,522.2 386.6,519.8 386.6,524.6" fill="#111"/>
<path d="M265.8 546 Q268.5 546.5 269 550 L272.2 569 Q273 575.4 278 575.8 L347 575.8 Q352 575.4 352.8 569 L356 550 Q356.6 546.5 359.4 546" fill="#fff" stroke="#222222" stroke-width="1.25" />
<rect x="276.4" y="575.8" width="11.2" height="2.8" rx="0" fill="#fff" stroke="#222222" stroke-width="1" />
<rect x="298.2" y="575.8" width="28.2" height="2.8" rx="0" fill="#fff" stroke="#222222" stroke-width="1" />
<rect x="336.8" y="575.8" width="11.2" height="2.8" rx="0" fill="#fff" stroke="#222222" stroke-width="1" />
<line x1="245.0" y1="545.6" x2="380.2" y2="545.6" stroke="#111" stroke-width="1.9" />
<rect x="251.4" y="590.3" width="119.4" height="4.7" rx="1.2" fill="#fff" stroke="#222222" stroke-width="1.25" />
</g>
<g id="cap36">
<line x1="415.0" y1="419.3" x2="452.6" y2="419.3" stroke="#6c6c6c" stroke-width="0.72" />
<line x1="415.0" y1="488.2" x2="452.8" y2="488.2" stroke="#6c6c6c" stroke-width="0.72" />
<line x1="429.4" y1="405.2" x2="429.4" y2="415.0" stroke="#555" stroke-width="0.9" />
<polygon points="429.4,418.8 427.0,413.8 431.8,413.8" fill="#111"/>
<line x1="429.4" y1="492.0" x2="429.4" y2="502.4" stroke="#555" stroke-width="0.9" />
<polygon points="429.4,488.2 431.8,493.2 427.0,493.2" fill="#111"/>
<line x1="461.8" y1="487.0" x2="461.8" y2="499.4" stroke="#6c6c6c" stroke-width="0.72" />
<line x1="483.4" y1="479.0" x2="483.4" y2="499.4" stroke="#6c6c6c" stroke-width="0.72" />
<line x1="448.0" y1="495.2" x2="458.0" y2="495.2" stroke="#555" stroke-width="0.9" />
<polygon points="461.6,495.2 456.6,497.6 456.6,492.8" fill="#111"/>
<line x1="487.0" y1="495.2" x2="497.8" y2="495.2" stroke="#555" stroke-width="0.9" />
<polygon points="483.6,495.2 488.6,492.8 488.6,497.6" fill="#111"/>
<rect x="462.4" y="430.8" width="20.8" height="47.4" rx="0" fill="#cfcfcf" stroke="none" stroke-width="1.25" />
<line x1="464.6" y1="431.4" x2="464.6" y2="477.6" stroke="#f0f0f0" stroke-width="0.9" />
<line x1="467.0" y1="431.4" x2="467.0" y2="477.6" stroke="#f0f0f0" stroke-width="0.9" />
<line x1="469.4" y1="431.4" x2="469.4" y2="477.6" stroke="#f0f0f0" stroke-width="0.9" />
<line x1="471.8" y1="431.4" x2="471.8" y2="477.6" stroke="#f0f0f0" stroke-width="0.9" />
<line x1="474.2" y1="431.4" x2="474.2" y2="477.6" stroke="#f0f0f0" stroke-width="0.9" />
<line x1="476.6" y1="431.4" x2="476.6" y2="477.6" stroke="#f0f0f0" stroke-width="0.9" />
<line x1="479.0" y1="431.4" x2="479.0" y2="477.6" stroke="#f0f0f0" stroke-width="0.9" />
<line x1="481.4" y1="431.4" x2="481.4" y2="477.6" stroke="#f0f0f0" stroke-width="0.9" />
<polyline points="463.4,430.2 464.5,431.1 465.6,430.2 466.7,431.1 467.8,430.2 468.9,431.1 470.0,430.2 471.1,431.1 472.2,430.2 473.3,431.1 474.4,430.2 475.5,431.1 476.6,430.2 477.7,431.1 478.8,430.2 479.9,431.1 483.2,431.4 483.2,477.6 479.9,478.8 478.8,477.9 477.7,478.8 476.6,477.9 475.5,478.8 474.4,477.9 473.3,478.8 472.2,477.9 471.1,478.8 470.0,477.9 468.9,478.8 467.8,477.9 466.7,478.8 465.6,477.9 464.5,478.8 463.4,477.9" fill="none" stroke="#222222" stroke-width="1"/>
<path d="M460.4 421 Q453.4 438 453.6 454 Q453.8 470 460.4 486.6 L462.6 486 L462.6 421.6 Z" fill="#fff" stroke="#222222" stroke-width="1" />
<path d="M460.4 422.5 Q455.2 438 455.4 454 Q455.6 470 460.4 485.2" fill="none" stroke="#8a8a8a" stroke-width="1.2" />
<line x1="461.5" y1="421.6" x2="461.5" y2="486.2" stroke="#6a6a6a" stroke-width="2" />
<rect x="456.8" y="450.2" width="3.6" height="8.2" rx="0" fill="#fff" stroke="#555" stroke-width="0.7" />
<rect x="499.1" y="419.1" width="7.0" height="68.4" rx="0" fill="#000" stroke="#000" stroke-width="0.3" />
</g>
<text transform="translate(0.0 398.9) scale(0.95 1)" font-size="19.8" x="307.71 318.27 329.35 344.20">50мм</text>
<text transform="translate(0.0 528.6) scale(0.95 1)" font-size="19.7" x="187.68 198.59 209.89 224.62">70мм</text>
<text transform="translate(0.0 516.8) scale(0.95 1)" font-size="19.7" x="657.08 667.96 678.90 690.41 704.84">500мм</text>
<text transform="translate(0.0 607.9) scale(0.95 1)" font-size="19.6" x="476.37 487.32 498.37 510.21 524.95">229мм</text>
<text transform="translate(0.0 814.0) scale(0.95 1)" font-size="19.8" x="386.12 398.95 402.75 414.12 419.52 430.27">1 1/2&quot;</text>
<rect x="366.51" y="810.82" width="4.57" height="4.48" fill="#fff"/>
<rect x="374.07" y="810.82" width="4.03" height="4.48" fill="#fff"/>
<rect x="382.31" y="810.82" width="4.57" height="4.48" fill="#fff"/>
<rect x="389.87" y="810.82" width="3.63" height="4.48" fill="#fff"/>
<text transform="translate(0.0 510.8) scale(0.95 1)" font-size="14.2" x="477.63 485.84 494.59 505.96">11мм</text>
<rect x="453.45" y="508.33" width="3.30" height="3.77" fill="#fff"/>
<rect x="459.01" y="508.33" width="2.84" height="3.77" fill="#fff"/>
<rect x="461.25" y="508.33" width="3.30" height="3.77" fill="#fff"/>
<rect x="466.81" y="508.33" width="2.84" height="3.77" fill="#fff"/>
<text transform="translate(435.3 480.7) rotate(-90) scale(0.95 1)" font-size="19.9" x="0.07 10.85 22.40 37.45">36мм</text>
<line x1="623.5" y1="511.5" x2="605.2" y2="537.8" stroke="#6c6c6c" stroke-width="0.85" />
<line x1="511.6" y1="603.6" x2="525.4" y2="616.5" stroke="#6c6c6c" stroke-width="0.85" />
<line x1="352.0" y1="800.0" x2="363.5" y2="805.0" stroke="#999" stroke-width="1.0" />
</g>
</svg>
</body>
</html>
